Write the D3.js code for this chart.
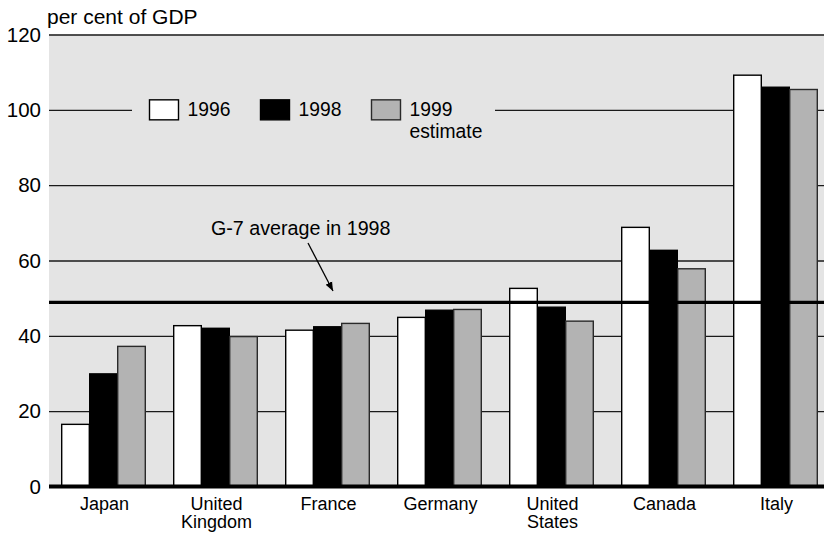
<!DOCTYPE html>
<html>
<head>
<meta charset="utf-8">
<script src="https://cdn.jsdelivr.net/npm/d3@7"></script>
<style>
  html, body { margin: 0; padding: 0; background: #fff; }
  svg { display: block; font-family: "Liberation Sans", Arial, Helvetica, sans-serif; }
</style>
</head>
<body>
<svg id="chart" width="824" height="534"></svg>
<script>
// ---- data ----
const categories = ["Japan", "United Kingdom", "France", "Germany", "United States", "Canada", "Italy"];
const categoryLines = [["Japan"], ["United", "Kingdom"], ["France"], ["Germany"], ["United", "States"], ["Canada"], ["Italy"]];
const seriesNames = ["1996", "1998", "1999"];
const seriesLabels = [["1996"], ["1998"], ["1999", "estimate"]];
const v1996 = [16.5, 42.7, 41.5, 44.9, 52.6, 68.8, 109.2];
const v1998 = [29.9, 42.0, 42.4, 46.8, 47.6, 62.7, 106.0];
const v1999 = [37.2, 39.8, 43.3, 47.0, 43.9, 57.8, 105.4];
const g7Average1998 = 48.9;
const g7Label = "G-7 average in 1998";
const yTicks = [0, 20, 40, 60, 80, 100, 120];
const yTitle = "per cent of GDP";

const seriesValues = [v1996, v1998, v1999];
const fills = ["#ffffff", "#000000", "#b3b3b3"];
const strokes = ["#000000", "#000000", "#2a2a2a"];

// ---- layout ----
const svg = d3.select("#chart");
const plotLeft = 49, plotRight = 824;
const y = d3.scaleLinear().domain([0, 120]).range([486.5, 34.5]);
const x0 = d3.scaleBand().domain(categories).range([47, 831]).paddingInner(0.25).paddingOuter(0.125);
const x1 = d3.scaleBand().domain(seriesNames).range([0, x0.bandwidth()]);

// background
svg.append("rect").attr("x", plotLeft).attr("y", y(120)).attr("width", plotRight - plotLeft)
  .attr("height", y(0) - y(120)).attr("fill", "#e4e4e4");

// grid + y axis
const yAxis = d3.axisLeft(y).tickValues(yTicks).tickSize(-(plotRight - plotLeft)).tickPadding(8).tickFormat(d3.format("d"));
const gAxis = svg.append("g").attr("transform", `translate(${plotLeft},0)`).call(yAxis);
gAxis.select(".domain").remove();
gAxis.selectAll(".tick line").attr("stroke", "#1a1a1a").attr("stroke-width", 1.4);
gAxis.selectAll(".tick text").attr("fill", "#000").style("font-size", "20.5px")
  .style("font-family", "'Liberation Sans', Arial, sans-serif");

// legend gap on the 100 gridline
svg.append("rect").attr("x", 132).attr("y", y(100) - 3).attr("width", 495 - 132).attr("height", 6).attr("fill", "#e4e4e4");

// bars
const groups = svg.append("g").selectAll("g").data(categories).join("g")
  .attr("transform", d => `translate(${x0(d)},0)`);
groups.selectAll("rect")
  .data((d, i) => seriesNames.map((s, j) => ({ s, j, v: seriesValues[j][i] })))
  .join("rect")
  .attr("x", d => x1(d.s) + 0.7)
  .attr("width", x1.bandwidth() - 0.4)
  .attr("y", d => y(d.v))
  .attr("height", d => y(0) - y(d.v))
  .attr("fill", d => fills[d.j])
  .attr("stroke", d => strokes[d.j])
  .attr("stroke-width", 1.4);

// zero line
svg.append("line").attr("x1", plotLeft).attr("x2", plotRight).attr("y1", y(0)).attr("y2", y(0))
  .attr("stroke", "#000").attr("stroke-width", 4);

// G-7 average line
svg.append("line").attr("x1", plotLeft).attr("x2", plotRight)
  .attr("y1", y(g7Average1998)).attr("y2", y(g7Average1998))
  .attr("stroke", "#000").attr("stroke-width", 3.2);

// annotation
svg.append("text").attr("x", 211).attr("y", 235).style("font-size", "19.7px").text(g7Label);
const defs = svg.append("defs");
defs.append("marker").attr("id", "arrow").attr("viewBox", "0 0 10 10").attr("refX", 10).attr("refY", 5)
  .attr("markerWidth", 9).attr("markerHeight", 9).attr("markerUnits", "userSpaceOnUse").attr("orient", "auto")
  .append("path").attr("d", "M0,1 L10,5 L0,9 Z").attr("fill", "#000");
svg.append("line").attr("x1", 308).attr("y1", 243).attr("x2", 333).attr("y2", 291)
  .attr("stroke", "#000").attr("stroke-width", 1.3).attr("marker-end", "url(#arrow)");

// y title
svg.append("text").attr("x", 47).attr("y", 24).style("font-size", "21px").text(yTitle);

// legend
const legendX = [149.5, 260.5, 371.5];
const legend = svg.append("g").selectAll("g").data(seriesNames).join("g")
  .attr("transform", (d, i) => `translate(${legendX[i]},${y(100) - 10})`);
legend.append("rect").attr("width", 29).attr("height", 20)
  .attr("fill", (d, i) => fills[i]).attr("stroke", (d, i) => strokes[i]).attr("stroke-width", 1.4);
legend.each(function (d, i) {
  const t = d3.select(this).append("text").attr("x", 38).attr("y", 16.5).style("font-size", "19.3px");
  seriesLabels[i].forEach((line, k) => {
    t.append("tspan").attr("x", 38).attr("dy", k === 0 ? 0 : 21.5).text(line);
  });
});

// category labels
const catLabels = svg.append("g").selectAll("text").data(categories).join("text")
  .attr("text-anchor", "middle")
  .attr("x", d => x0(d) + x0.bandwidth() / 2 + 1.5)
  .attr("y", 509.5)
  .style("font-size", "18px");
catLabels.each(function (d, i) {
  const t = d3.select(this);
  categoryLines[i].forEach((line, k) => {
    t.append("tspan").attr("x", x0(d) + x0.bandwidth() / 2 + 1.5).attr("dy", k === 0 ? 0 : 18.5).text(line);
  });
});
</script>
</body>
</html>
